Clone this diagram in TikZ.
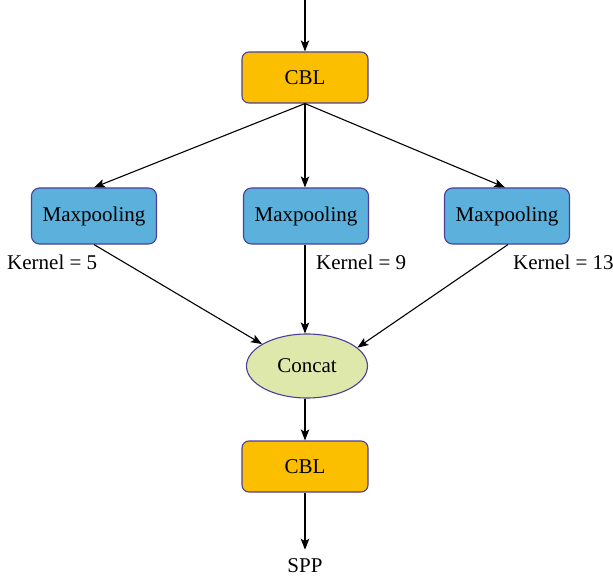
\documentclass[tikz,border=0pt]{standalone}
\usepackage{fontspec}
\setmainfont{Liberation Serif}
\usetikzlibrary{arrows.meta,shapes.geometric}
\definecolor{cblfill}{HTML}{FBBF00}
\definecolor{poolfill}{HTML}{5CB0DC}
\definecolor{catfill}{HTML}{DDE8AA}
\definecolor{edgeblue}{HTML}{4B3F9A}
\tikzset{
  txt/.style={font=\fontsize{21}{25}\selectfont},
  cbl/.style={txt, draw=edgeblue, line width=1.1pt, fill=cblfill, rounded corners=7pt,
    minimum width=126pt, minimum height=51pt, inner sep=0pt},
  pool/.style={txt, draw=edgeblue, line width=1.1pt, fill=poolfill, rounded corners=8pt,
    minimum width=125pt, minimum height=56pt, inner sep=0pt},
  cat/.style={txt, ellipse, draw=edgeblue, line width=1.1pt, fill=catfill,
    minimum width=121pt, minimum height=64pt, inner sep=0pt},
  lbl/.style={txt, inner sep=0pt},
  conn/.style={line width=1.1pt, -{Stealth[length=11pt,width=8.5pt,inset=2.5pt]}},
}
\begin{document}
\begin{tikzpicture}[x=1pt,y=-1pt]
  \useasboundingbox (0,0) rectangle (613,580);
  \coordinate (in) at (305,0);
  \node[cbl] (cbl1) at (305,77.5) {CBL};
  \node[pool] (p1) at (94,216) {Maxpooling};
  \node[pool] (p2) at (306,216) {Maxpooling};
  \node[pool] (p3) at (507,216) {Maxpooling};
  \node[lbl, anchor=west] (k1) at (7,262) {Kernel = 5};
  \node[lbl, anchor=west] (k2) at (316,262) {Kernel = 9};
  \node[lbl, anchor=west] (k3) at (513,262) {Kernel = 13};
  \node[cat] (cat) at (307,366) {Concat};
  \node[cbl] (cbl2) at (305,466.5) {CBL};
  \node[lbl] (spp) at (305,566) {SPP};

  % input and top CBL fan-out
  \draw[conn] (in) -- (cbl1.north);
  \draw[conn] (cbl1.south) -- (p1.north);
  \draw[conn] (cbl1.south) -- (p2.north -| cbl1.south);
  \draw[conn] (cbl1.south) -- ([xshift=-2pt]p3.north);
  % pooling branches into the concat
  \draw[conn] (p1.south) -- (cat.154.5);
  \draw[conn] (p2.south -| cbl1.south) -- (cat.north -| cbl1.south);
  \draw[conn] ([xshift=1pt]p3.south) -- (cat.20);
  % output path
  \draw[conn] (cat.south -| cbl1.south) -- (cbl2.north);
  \draw[conn] (cbl2.south) -- ([yshift=9pt]spp.north);
\end{tikzpicture}
\end{document}
